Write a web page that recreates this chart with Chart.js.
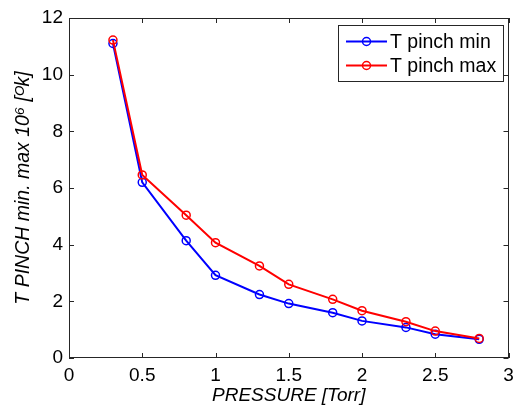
<!DOCTYPE html>
<html><head><meta charset="utf-8">
<script src="https://cdn.jsdelivr.net/npm/chart.js@4"></script>
<style>html,body{margin:0;padding:0;background:#fff}</style>
</head><body>
<canvas id="c" width="514" height="412" style="display:block;width:514px;height:412px"></canvas>
<script>
const pressure = [0.3, 0.5, 0.8, 1.0, 1.3, 1.5, 1.8, 2.0, 2.3, 2.5, 2.8];
const tPinchMin = [11.1, 6.2, 4.14, 2.92, 2.24, 1.92, 1.6, 1.31, 1.08, 0.84, 0.66];
const tPinchMax = [11.22, 6.46, 5.04, 4.07, 3.25, 2.6, 2.07, 1.67, 1.28, 0.95, 0.69];
const seriesLabels = ['T pinch min', 'T pinch max'];
const seriesColors = ['#0000ff', '#ff0000'];
const xTicks = [0, 0.5, 1, 1.5, 2, 2.5, 3];
const yTicks = [0, 2, 4, 6, 8, 10, 12];
const xTitle = 'PRESSURE [Torr]';
const yTitle = 'T PINCH min. max 10\u2076 [\u1D3Ck]';

const FONT = "Arial, 'Liberation Sans', sans-serif";
const AXIS = '#262626';

const boxPlugin = {
  id: 'box',
  beforeDatasetsDraw(chart) {
    const {ctx, chartArea: a, scales: {x, y}} = chart;
    ctx.save();
    ctx.strokeStyle = AXIS;
    ctx.lineWidth = 1;
    ctx.strokeRect(Math.round(a.left) + 0.5, Math.round(a.top) + 0.5,
      Math.round(a.right - a.left) - 1, Math.round(a.bottom - a.top) - 1);
    ctx.beginPath();
    const L = 5;
    xTicks.forEach(v => {
      const px = Math.round(x.getPixelForValue(v)) + 0.5;
      ctx.moveTo(px, a.bottom); ctx.lineTo(px, a.bottom - L);
      ctx.moveTo(px, a.top); ctx.lineTo(px, a.top + L);
    });
    yTicks.forEach(v => {
      const py = Math.round(y.getPixelForValue(v)) + 0.5;
      ctx.moveTo(a.left, py); ctx.lineTo(a.left + L, py);
      ctx.moveTo(a.right, py); ctx.lineTo(a.right - L, py);
    });
    ctx.stroke();
    ctx.restore();
  },
  afterDraw(chart) {
    const {ctx} = chart;
    const bx = 338, by = 25, bw = 165, bh = 56;
    ctx.save();
    ctx.fillStyle = '#fff';
    ctx.fillRect(bx, by, bw, bh);
    ctx.strokeStyle = AXIS;
    ctx.lineWidth = 1;
    ctx.strokeRect(bx + 0.5, by + 0.5, bw, bh);
    const rows = [41.5, 65.5];
    chart.data.datasets.forEach((ds, i) => {
      const yy = rows[i];
      ctx.strokeStyle = ds.borderColor;
      ctx.lineWidth = 2;
      ctx.beginPath(); ctx.moveTo(346, yy); ctx.lineTo(387, yy); ctx.stroke();
      ctx.lineWidth = 1.5;
      ctx.beginPath(); ctx.arc(366.5, yy, 4, 0, Math.PI * 2); ctx.stroke();
      ctx.fillStyle = '#000';
      ctx.font = '19.5px ' + FONT;
      ctx.textBaseline = 'middle';
      ctx.textAlign = 'left';
      ctx.fillText(ds.label, 390, yy + 1);
    });
    ctx.restore();
  }
};

const mk = (vals) => pressure.map((p, i) => ({x: p, y: vals[i]}));

new Chart(document.getElementById('c'), {
  type: 'line',
  data: {
    datasets: [
      {label: seriesLabels[0], data: mk(tPinchMin), borderColor: seriesColors[0], order: 1},
      {label: seriesLabels[1], data: mk(tPinchMax), borderColor: seriesColors[1], order: 0}
    ].map(d => Object.assign({
      borderWidth: 2, tension: 0, pointStyle: 'circle', pointRadius: 4,
      pointBorderWidth: 1.5, pointBackgroundColor: 'rgba(0,0,0,0)',
      pointBorderColor: d.borderColor, fill: false
    }, d))
  },
  options: {
    responsive: false,
    animation: false,
    layout: {padding: {left: 0, right: 5, top: 18, bottom: 0}},
    plugins: {legend: {display: false}, tooltip: {enabled: false}},
    scales: {
      x: {
        type: 'linear', min: 0, max: 3,
        afterBuildTicks: s => { s.ticks = xTicks.map(v => ({value: v})); },
        afterFit: s => { s.height = 54; s.paddingLeft = 0; s.paddingRight = 0; },
        grid: {display: false, drawTicks: false},
        border: {display: false},
        ticks: {color: '#000', font: {family: FONT, size: 19}, padding: 6,
          callback: v => String(v)},
        title: {display: true, text: xTitle, color: '#000',
          font: {family: FONT, size: 19, style: 'italic'}, padding: {top: 0, bottom: 5}}
      },
      y: {
        type: 'linear', min: 0, max: 12,
        afterBuildTicks: s => { s.ticks = yTicks.map(v => ({value: v})); },
        afterFit: s => { s.width = 69; s.paddingTop = 0; s.paddingBottom = 0; },
        grid: {display: false, drawTicks: false},
        border: {display: false},
        ticks: {color: '#000', font: {family: FONT, size: 19}, padding: 6,
          callback: v => String(v)},
        title: {display: true, text: yTitle, color: '#000',
          font: {family: FONT, size: 19.5, style: 'italic'}, padding: {top: 12, bottom: 0}}
      }
    }
  },
  plugins: [boxPlugin]
});
</script>
</body></html>
